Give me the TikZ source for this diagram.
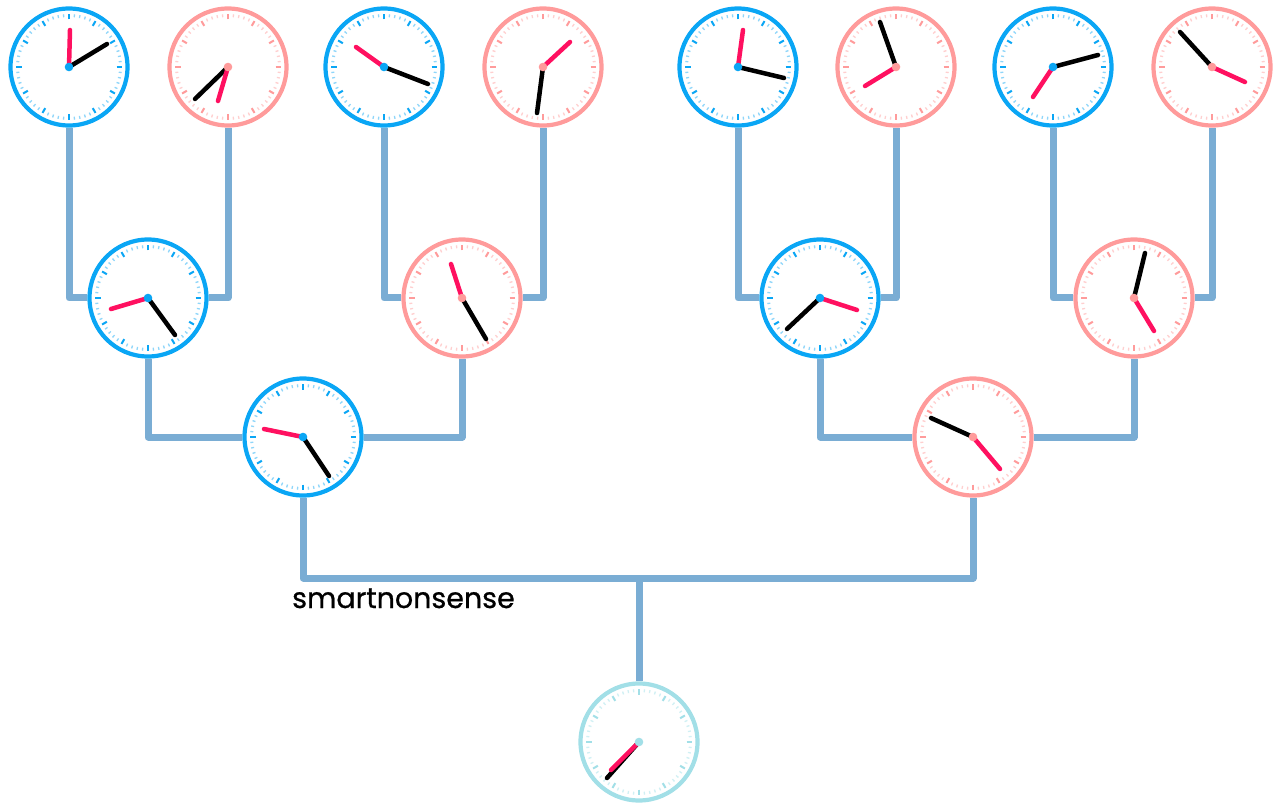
\documentclass[tikz,border=0pt]{standalone}
\usepackage{fontspec}
\newfontfamily\labelfont{Poppins}[FakeBold=0.8]
\definecolor{cblue}{HTML}{0AA6F5}
\definecolor{cbluel}{HTML}{8ED6FA}
\definecolor{cpink}{HTML}{FF9B9B}
\definecolor{cpinkl}{HTML}{FFCFCF}
\definecolor{cteal}{HTML}{A2DFE7}
\definecolor{ctealtl}{HTML}{D0F0F4}
\definecolor{linkc}{HTML}{7AADD4}
\definecolor{handred}{HTML}{FF1060}
\newcommand{\myclock}[9]{%
  \node[clockface, draw=#4] (#1) at (#2,#3) {};
  \begin{scope}[shift={(#1.center)}]
    \foreach \h in {0,30,...,330}{
      \foreach \m in {6,12,18,24}{
        \draw[#5, line width=1.3pt] (\h+\m:50pt) -- (\h+\m:53pt);
      }
      \draw[#4, line width=2pt] (\h:47.5pt) -- (\h:53pt);
    }
    \draw[blackhand] (0,0) -- ++(#6,#7);
    \draw[redhand] (0,0) -- ++(#8,#9);
    \fill[#4] (0,0) circle (4.3pt);
  \end{scope}
}
\begin{document}
\begin{tikzpicture}[x=1pt,y=-1pt,
  clockface/.style={circle, minimum size=117pt, inner sep=0pt, line width=4.2pt, fill=white},
  link/.style={draw=linkc, line width=7pt, line cap=butt, line join=round},
  blackhand/.style={line width=4.5pt, line cap=round, black},
  redhand/.style={line width=4.5pt, line cap=round, handred}]
\useasboundingbox (0,0) rectangle (1280,810);
% top row
\myclock{t1}{69}{67}{cblue}{cbluel}{38}{-23}{1}{-37}
\myclock{t2}{228}{67}{cpink}{cpinkl}{-33}{32}{-10}{34}
\myclock{t3}{384}{67}{cblue}{cbluel}{44}{17}{-28}{-20}
\myclock{t4}{543}{67}{cpink}{cpinkl}{-6}{46}{27}{-25}
\myclock{t5}{738}{67}{cblue}{cbluel}{46}{11}{5}{-37}
\myclock{t6}{896}{67}{cpink}{cpinkl}{-16}{-45}{-31}{19}
\myclock{t7}{1053}{67}{cblue}{cbluel}{45}{-12}{-20}{30}
\myclock{t8}{1212}{67}{cpink}{cpinkl}{-32}{-35}{33}{15}
% middle row
\myclock{m1}{148}{298}{cblue}{cbluel}{27}{37}{-37}{11}
\myclock{m2}{462}{298}{cpink}{cpinkl}{24}{41}{-11}{-34}
\myclock{m3}{820}{298}{cblue}{cbluel}{-33}{31}{37}{12}
\myclock{m4}{1134}{298}{cpink}{cpinkl}{11}{-45}{20}{33}
% third row
\myclock{s1}{303}{437}{cblue}{cbluel}{26}{39}{-39}{-8}
\myclock{s2}{973}{437}{cpink}{cpinkl}{-42}{-19}{27}{32}
% bottom
\myclock{b}{639}{742}{cteal}{ctealtl}{-32}{36}{-28}{28}
% connectors
\draw[link] (t1.south) |- (m1.west);
\draw[link] (t2.south) |- (m1.east);
\draw[link] (t3.south) |- (m2.west);
\draw[link] (t4.south) |- (m2.east);
\draw[link] (t5.south) |- (m3.west);
\draw[link] (t6.south) |- (m3.east);
\draw[link] (t7.south) |- (m4.west);
\draw[link] (t8.south) |- (m4.east);
\draw[link] (m1.south) |- (s1.west);
\draw[link] (m2.south) |- (s1.east);
\draw[link] (m3.south) |- (s2.west);
\draw[link] (m4.south) |- (s2.east);
\coordinate (j) at (639,578);
\draw[link] (s1.south) |- (j) -| (s2.south);
\draw[link] (j) -- (b.north);
\node[font=\labelfont\fontsize{28.5}{30}\selectfont, anchor=base west, inner sep=0pt] (lbl) at (292,608) {smartnonsense};
\end{tikzpicture}
\end{document}
